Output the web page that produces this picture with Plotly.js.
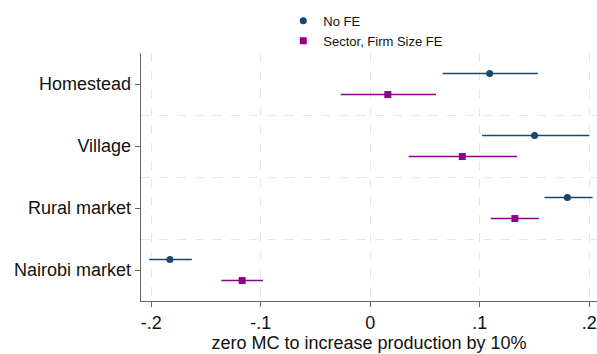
<!DOCTYPE html>
<html><head><meta charset="utf-8">
<script src="https://cdn.plot.ly/plotly-3.0.1.min.js"></script>
<style>html,body{margin:0;padding:0;background:#fff}#chart{width:597px;height:354px}</style>
</head><body><div id="chart"></div>
<script>
const categories = ["Homestead", "Village", "Rural market", "Nairobi market"];
const noFE_est = [0.109, 0.150, 0.180, -0.183];
const noFE_lo  = [0.066, 0.102, 0.159, -0.202];
const noFE_hi  = [0.153, 0.200, 0.203, -0.163];
const sec_est  = [0.016, 0.084, 0.132, -0.117];
const sec_lo   = [-0.027, 0.035, 0.110, -0.136];
const sec_hi   = [0.060, 0.134, 0.154, -0.098];
const xTickVals = [-0.2, -0.1, 0, 0.1, 0.2];
const xTickText = ["-.2", "-.1", "0", ".1", ".2"];

const idx = categories.map((c, i) => i + 1);
const off = 0.17;
function trace(name, est, lo, hi, color, symbol, shift) {
  return {
    type: 'scatter', mode: 'markers', name: name,
    x: est, y: idx.map(v => v + shift),
    error_x: {type: 'data', symmetric: false,
      array: hi.map((h, i) => h - est[i]),
      arrayminus: lo.map((l, i) => est[i] - l),
      color: color, thickness: 1.5, width: 0},
    marker: {color: color, symbol: symbol, size: 7},
    hoverinfo: 'x+name'
  };
}
const data = [
  trace('No FE', noFE_est, noFE_lo, noFE_hi, '#1a476f', 'circle', -off),
  trace('Sector, Firm Size FE', sec_est, sec_lo, sec_hi, '#8e008e', 'square', off)
];
const layout = {
  width: 597, height: 354,
  margin: {l: 141, r: 0, t: 53, b: 53},
  paper_bgcolor: '#fff', plot_bgcolor: '#fff',
  font: {family: 'Liberation Sans, Arial, sans-serif', color: '#111'},
  showlegend: true,
  legend: {x: 0.312, y: 1.19, xanchor: 'left', yanchor: 'top',
    font: {size: 13, color: '#111'}, bgcolor: 'rgba(0,0,0,0)',
    itemwidth: 30, tracegroupgap: 0},
  xaxis: {
    range: [-0.2094, 0.207], tickmode: 'array', tickvals: xTickVals, ticktext: xTickText,
    showgrid: true, gridcolor: '#e6e6e6', griddash: 'dash', gridwidth: 1,
    zeroline: false, showline: true, linecolor: '#666', linewidth: 1.3,
    ticks: 'outside', ticklen: 5, tickcolor: '#666',
    tickfont: {size: 18}, title: {text: 'zero MC to increase production by 10%', font: {size: 18}, standoff: 4}
  },
  yaxis: {
    range: [4.5, 0.5], tickmode: 'array', tickvals: idx, ticktext: categories,
    showgrid: false, zeroline: false, showline: true, linecolor: '#666', linewidth: 1.3,
    ticks: 'outside', ticklen: 5, tickcolor: '#666', tickfont: {size: 18},
    minor: {tickmode: 'array', tickvals: [1.5, 2.5, 3.5], showgrid: true,
      gridcolor: '#e6e6e6', griddash: 'dash', gridwidth: 1, ticklen: 0}
  }
};
Plotly.newPlot('chart', data, layout, {displayModeBar: false, staticPlot: true});
</script></body></html>
